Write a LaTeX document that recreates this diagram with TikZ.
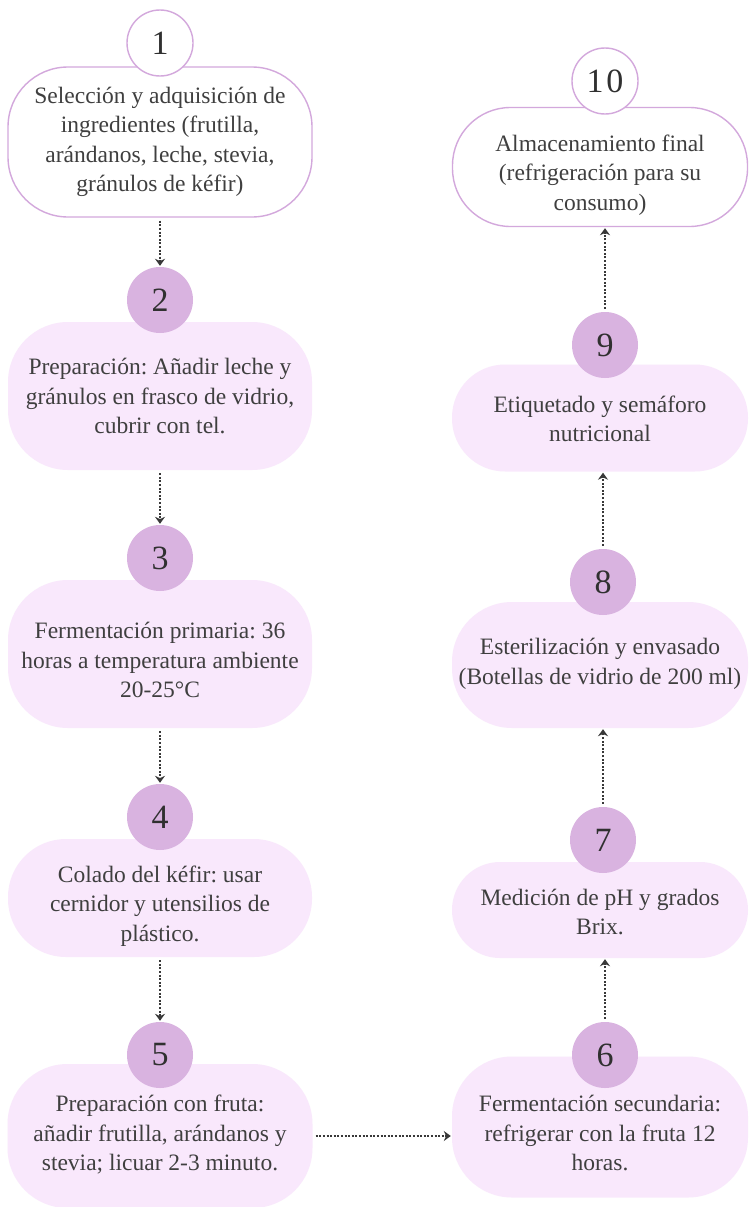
\documentclass[tikz,border=0pt]{standalone}
\usepackage{fontspec}
\setmainfont{Liberation Serif}
\usetikzlibrary{arrows.meta}
\frenchspacing
\definecolor{boxfill}{HTML}{F9E8FC}
\definecolor{circfill}{HTML}{D9B3E0}
\definecolor{edgecol}{HTML}{D3A8DC}
\definecolor{txtcol}{HTML}{3F3F3F}
\definecolor{numcol}{HTML}{303030}
\definecolor{arrcol}{HTML}{383838}
\begin{document}
\begin{tikzpicture}[x=1pt,y=-1pt,
  stepbox/.style={rectangle, rounded corners=60pt, fill=boxfill, draw=none, inner sep=0pt},
  whitebox/.style={stepbox, fill=white, draw=edgecol, line width=1.4pt},
  numc/.style={circle, minimum size=66pt, inner sep=0pt, fill=circfill, text=numcol, font=\fontsize{34}{34}\selectfont},
  numw/.style={numc, fill=white, draw=edgecol, line width=1.4pt},
  lbl/.style={align=center, text=txtcol, inner sep=0pt, font=\fontsize{23.5}{29.5}\selectfont},
  flow/.style={draw=arrcol, line width=2.5pt, dash pattern=on 2pt off 1.6pt, -{Stealth[length=7pt,width=10pt]}, shorten <=3pt, shorten >=1pt}]
\useasboundingbox[fill=white] (0,0) rectangle (750,1207);

% left column
\node[whitebox, minimum width=304pt, minimum height=150pt] (b1) at (160,142) {};
\node[numw] (c1) at (160,43) {1};
\node[lbl] (t1) at (160,142) {Selección y adquisición de\\ingredientes (frutilla,\\arándanos, leche, stevia,\\gránulos de kéfir)};

\node[stepbox, minimum width=304pt, minimum height=148pt] (b2) at (160,396) {};
\node[numc] (c2) at (160,300) {2};
\node[lbl] (t2) at (160,396) {Preparación: Añadir leche y\\gránulos en frasco de vidrio,\\cubrir con tel.};

\node[stepbox, minimum width=304pt, minimum height=148pt] (b3) at (160,654) {};
\node[numc] (c3) at (160,558) {3};
\node[lbl] (t3) at (160,660) {Fermentación primaria: 36\\horas a temperatura ambiente\\20-25°C};

\node[stepbox, minimum width=304pt, minimum height=118pt, rounded corners=58pt] (b4) at (160,898) {};
\node[numc] (c4) at (160,817) {4};
\node[lbl] (t4) at (160,906) {Colado del kéfir: usar\\cernidor y utensilios de\\plástico.};

\node[stepbox, minimum width=305pt, minimum height=144pt] (b5) at (160,1136) {};
\node[numc] (c5) at (160,1055) {5};
\node[lbl] (t5) at (160,1135) {Preparación con fruta:\\añadir frutilla, arándanos y\\stevia; licuar 2-3 minuto.};

% right column
\node[stepbox, minimum width=296pt, minimum height=141pt] (b6) at (600,1127) {};
\node[numc] (c6) at (605,1055) {6};
\node[lbl] (t6) at (600,1133) {Fermentación secundaria:\\refrigerar con la fruta 12\\horas.};

\node[stepbox, minimum width=296pt, minimum height=96pt, rounded corners=48pt] (b7) at (600,910) {};
\node[numc] (c7) at (603,840) {7};
\node[lbl] (t7) at (600,912) {Medición de pH y grados\\Brix.};

\node[stepbox, minimum width=296pt, minimum height=126pt] (b8) at (600,665) {};
\node[numc] (c8) at (603,582) {8};
\node[lbl] (t8) at (600,664) {Esterilización y envasado\\(Botellas de vidrio de 200 ml)};

\node[stepbox, minimum width=296pt, minimum height=107pt, rounded corners=53pt] (b9) at (600,418) {};
\node[numc] (c9) at (605,345) {9};
\node[lbl] (t9) at (600,419) {Etiquetado y semáforo\\nutricional};

\node[whitebox, minimum width=295pt, minimum height=119pt, rounded corners=58pt] (b10) at (600,167) {};
\node[numw] (c10) at (605,81) {1\kern3pt0};
\node[lbl] (t10) at (600,175) {Almacenamiento final\\(refrigeración para su\\consumo)};

% connectors
\draw[flow] (b1.south) -- (c2.north);
\draw[flow] (b2.south) -- (c3.north);
\draw[flow] (b3.south) -- (c4.north);
\draw[flow] (b4.south) -- (c5.north);
\draw[flow] (b5.east) -- (b5.east -| b6.west);
\draw[flow] (c6.north) -- (c6.north |- b7.south);
\draw[flow] (c7.north) -- (c7.north |- b8.south);
\draw[flow] (c8.north) -- (c8.north |- b9.south);
\draw[flow] (c9.north) -- (c9.north |- b10.south);
\end{tikzpicture}
\end{document}
